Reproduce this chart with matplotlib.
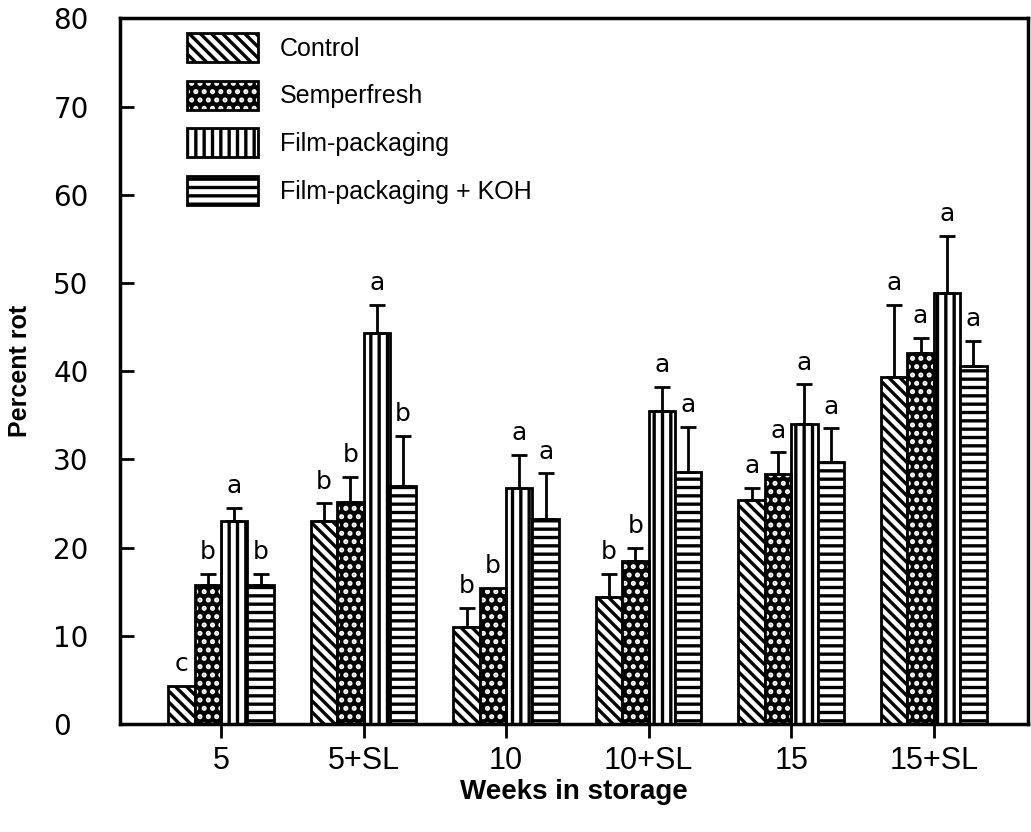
import matplotlib
matplotlib.use("Agg")
import matplotlib.pyplot as plt
import numpy as np
from matplotlib.patches import Patch
from matplotlib.legend_handler import HandlerTuple

weeks = ["5", "5+SL", "10", "10+SL", "15", "15+SL"]
series = ["Control", "Semperfresh", "Film-packaging", "Film-packaging + KOH"]
control = [4.3, 23.0, 11.0, 14.4, 25.4, 39.3]
semperfresh = [15.8, 25.2, 15.4, 18.5, 28.3, 42.1]
film = [23.0, 44.3, 26.7, 35.5, 34.0, 48.9]
film_koh = [15.8, 27.0, 23.2, 28.6, 29.7, 40.6]
control_err = [0.0, 2.0, 2.2, 2.6, 1.4, 8.2]
semperfresh_err = [1.2, 2.8, 0.0, 1.5, 2.5, 1.7]
film_err = [1.5, 3.2, 3.8, 2.7, 4.5, 6.4]
film_koh_err = [1.2, 5.7, 5.2, 5.1, 3.8, 2.8]
control_let = ["c", "b", "b", "b", "a", "a"]
semperfresh_let = ["b", "b", "b", "b", "a", "a"]
film_let = ["a", "a", "a", "a", "a", "a"]
film_koh_let = ["b", "b", "a", "a", "a", "a"]

plt.rcParams['hatch.linewidth'] = 2.4
fig = plt.figure(figsize=(10.31, 8.32), dpi=100)
ax = fig.add_axes([0.1164, 0.1298, 0.8806, 0.8482])

x = np.arange(len(weeks))
w = 0.185
vals = [control, semperfresh, film, film_koh]
errs = [control_err, semperfresh_err, film_err, film_koh_err]
lets = [control_let, semperfresh_let, film_let, film_koh_let]
hatches = ['\\\\\\', '..', '||', '--']
handles = []
for i in range(4):
    xs = x + (i - 1.5) * w
    if i == 1:
        ax.bar(xs, vals[i], w, facecolor='black', edgecolor='white', hatch=hatches[i], linewidth=0, zorder=2)
        ax.bar(xs, vals[i], w, fill=False, edgecolor='black', linewidth=2, zorder=3)
        h = (Patch(facecolor='black', edgecolor='white', hatch=hatches[i], linewidth=0),
             Patch(fill=False, edgecolor='black', linewidth=2))
    else:
        ax.bar(xs, vals[i], w, facecolor='white', edgecolor='black', hatch=hatches[i], linewidth=2, zorder=2)
        h = Patch(facecolor='white', edgecolor='black', hatch=hatches[i], linewidth=2)
    handles.append(h)
    top = np.array(vals[i]) + np.array(errs[i])
    for xi, v, e, t, l in zip(xs, vals[i], errs[i], top, lets[i]):
        if e > 0:
            ax.errorbar(xi, v, yerr=[[0], [e]], fmt='none', ecolor='black', elinewidth=2,
                        capsize=6, capthick=2, zorder=4)
        ax.annotate(l, (xi, t), xytext=(0, 7), textcoords='offset points', ha='center', va='bottom',
                    fontsize=18, family='DejaVu Sans')

ax.set_xlim(-0.708, 5.66)
ax.set_ylim(0, 80)
ax.set_yticks(range(0, 81, 10))
ax.set_xticks(x)
ax.set_xticklabels(weeks, family='Liberation Sans', fontsize=22)
for lab in ax.get_yticklabels():
    lab.set_family('DejaVu Sans')
    lab.set_fontsize(20)
    lab.set_horizontalalignment('left')
ax.tick_params(axis='y', direction='in', length=10, width=2, pad=48)
ax.tick_params(axis='x', direction='out', length=10, width=2, pad=6)
for s in ax.spines.values():
    s.set_linewidth(2.5)

ax.set_xlabel("Weeks in storage", family='Liberation Sans', fontweight='bold', fontsize=20)
ax.xaxis.set_label_coords(0.5, -0.078)
ax.set_ylabel("Percent rot", family='Liberation Sans', fontweight='bold', fontsize=18)
ax.yaxis.set_label_coords(-0.097, 0.5)

leg = ax.legend(handles, series, loc='upper left', bbox_to_anchor=(0.074, 0.979), frameon=False,
                handler_map={tuple: HandlerTuple(ndivide=1, pad=0)},
                prop={'family': 'Liberation Sans', 'size': 18}, handlelength=2.84, handleheight=1.4,
                labelspacing=0.75, handletextpad=0.88, borderpad=0, borderaxespad=0)

fig.savefig("out.png", dpi=100)
